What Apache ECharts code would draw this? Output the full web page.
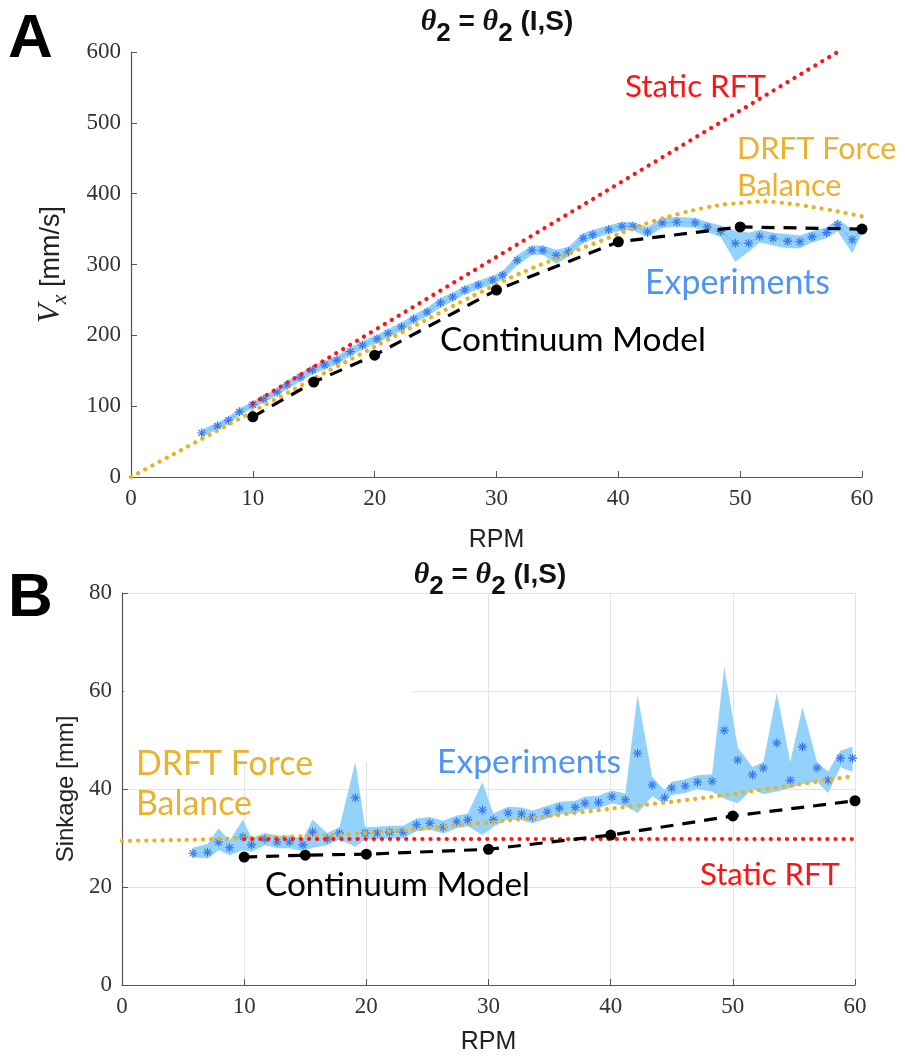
<!DOCTYPE html>
<html><head><meta charset="utf-8">
<script src="https://cdn.jsdelivr.net/npm/echarts@6/dist/echarts.min.js"></script>
<style>html,body{margin:0;padding:0;background:#fff}#c{width:905px;height:1059px}</style>
</head><body><div id="c"></div>
<script>
// ---------------- DATA ----------------
const rpmTicks = [0, 10, 20, 30, 40, 50, 60];

// Panel A: Vx [mm/s] vs RPM
const expA_rpm = [5.8,7.1,8.0,8.9,10.0,10.9,12.0,12.8,13.9,14.9,15.9,16.9,18.0,19.0,20.2,21.1,22.2,23.2,24.3,25.4,26.4,27.4,28.5,29.7,30.5,31.7,32.9,33.8,34.9,35.9,37.1,37.9,39.2,40.3,41.2,42.4,43.6,44.8,46.3,47.3,48.4,49.6,50.7,51.6,52.7,53.9,54.9,55.9,57.1,58.0,59.2,60.0];
const expA_vx  = [62,72,80,92,102,110,120,130,141,151,158,165,177,186,195,203,212,223,233,246,254,264,271,278,285,306,320,320,313,318,337,342,349,354,354,346,359,360,359,353,347,330,330,340,337,333,332,339,345,356,335,350];
const expA_lo  = [57,67,75,87,97,105,115,124,135,145,152,159,171,180,189,197,206,217,227,239,248,258,265,272,279,299,313,314,301,311,330,336,343,348,348,339,352,353,352,346,339,304,318,331,327,323,323,331,337,347,316,344];
const expA_hi  = [67,77,85,97,107,115,125,136,147,157,164,171,183,192,201,209,218,229,239,253,260,270,277,284,291,313,327,327,321,325,344,349,355,360,360,353,366,367,366,360,355,348,345,349,345,343,341,347,353,364,350,356];
const contA_rpm = [10,15,20,30,40,50,60];
const contA_vx  = [85,134,172,264,332,353,350];
const rftA_rpm = [10,58];
const rftA_vx  = [104,600];
const drftA_rpm = [0,4,8,12,16,20,24,28,32,36,40,42,44,46,48,50,52,54,56,58,60];
const drftA_vx  = [0,37,74,111,148,184,220,255,288,316,343,356,367,376,383,387,389,386,381,375,368];
const vxTicks = [0,100,200,300,400,500,600];

// Panel B: Sinkage [mm] vs RPM
const expB_rpm = [5.8,7.0,7.9,8.8,9.9,10.6,11.7,12.7,13.7,14.8,15.6,16.8,17.8,19.1,19.9,20.9,21.9,23.0,24.1,25.2,26.3,27.4,28.3,29.5,30.4,31.6,32.7,33.6,34.8,35.8,37.1,37.9,39.0,40.1,41.2,42.2,43.4,44.4,45.0,46.1,47.1,48.3,49.3,50.4,51.6,52.5,53.6,54.7,55.7,56.9,57.8,58.8,59.8];
const expB_sink = [26.9,27.1,29.2,28.0,30.2,28.6,29.8,29.2,29.2,28.6,31.2,29.8,31.0,38.2,31.0,31.0,31.2,31.2,32.7,33.0,32.2,33.3,33.7,35.7,33.7,35.1,34.9,34.3,35.3,36.1,36.3,37.1,37.3,38.4,37.8,47.3,40.8,38.2,40.2,40.6,41.4,41.6,52.0,45.9,42.9,44.3,49.4,41.8,48.6,44.3,41.8,46.3,46.3];
const expB_lo = [26.0,25.8,27.5,26.5,27.5,27.2,28.5,27.9,27.9,27.3,28.0,28.5,29.7,28.2,29.7,29.7,29.9,29.9,31.4,31.7,30.9,32.0,32.4,30.6,32.3,33.8,33.6,33.0,34.0,34.8,35.0,35.8,36.0,37.1,36.5,35.1,38.5,37.0,38.8,39.2,40.0,39.5,38.0,37.1,40.0,39.0,39.5,40.2,41.0,41.5,39.2,44.5,43.5];
const expB_hi = [28.0,28.8,32.0,29.5,33.7,30.0,31.0,30.5,30.5,29.9,33.7,31.0,32.2,45.5,32.2,32.3,32.5,32.5,34.0,34.3,33.5,34.6,35.0,41.4,35.0,36.4,36.2,35.6,36.6,37.4,37.6,38.4,38.6,39.7,39.1,59.2,42.5,39.8,41.5,42.0,42.8,43.0,64.9,48.5,44.5,45.5,59.6,45.5,56.7,45.5,43.5,47.8,48.6];
const contB_rpm = [10,15,20,30,40,50,60];
const contB_sink = [26.1,26.5,26.7,27.7,30.6,34.5,37.6];
const rftB_rpm = [10,60];
const rftB_sink = [29.8,29.8];
const drftB_rpm = [0,5,10,15,20,25,30,35,40,45,50,55,60];
const drftB_sink = [29.4,29.6,30.0,30.4,31.0,32.0,33.2,34.5,36.0,37.4,39.0,40.8,42.7];
const sinkTicks = [0,20,40,60,80];

// ---------------- STYLE ----------------
const C_BAND = '#93d2fa', C_STAR = '#2e6cf2', C_EXPTXT = '#4f95f5';
const C_ORANGE = '#EDB120', C_ORTXT = '#eab22e', C_RED = '#ff1414';
const SERIF = '"Liberation Serif", "DejaVu Serif", serif';
const SANS = 'Lato, "Open Sans", sans-serif';
const SANSB = '"Liberation Sans Narrow", "Liberation Sans", Arial, sans-serif';
const ASTERISK = 'path://M-0.7,-6L0.7,-6L0.7,6L-0.7,6Z M-6,-0.7L6,-0.7L6,0.7L-6,0.7Z M-4.7,-3.7L3.7,4.7L4.7,3.7L-3.7,-4.7Z M4.7,-3.7L-3.7,4.7L-4.7,3.7L3.7,-4.7Z';

function fitSize(text, width, family, weight) {
  const ctx = document.createElement('canvas').getContext('2d');
  ctx.font = (weight || 'normal') + ' 100px ' + family;
  return 100 * width / ctx.measureText(text).width;
}

const pairs = (xs, ys) => xs.map((x, i) => [x, ys[i]]);

function band(ai, xs, lo, hi) {
  return {
    type: 'custom', xAxisIndex: ai, yAxisIndex: ai, z: 1, silent: true,
    data: xs.map((x, i) => [x, lo[i], hi[i]]),
    encode: { x: 0, y: [1, 2] },
    renderItem: function (params, api) {
      if (params.dataIndex !== 0) return null;
      const pts = [];
      for (let i = 0; i < xs.length; i++) pts.push(api.coord([xs[i], hi[i]]));
      for (let i = xs.length - 1; i >= 0; i--) pts.push(api.coord([xs[i], lo[i]]));
      return { type: 'polygon', shape: { points: pts }, style: { fill: C_BAND } };
    }
  };
}
function stars(ai, xs, ys, withLine) {
  return {
    type: 'line', xAxisIndex: ai, yAxisIndex: ai, z: 3, data: pairs(xs, ys),
    symbol: ASTERISK, symbolSize: 9, showSymbol: true,
    itemStyle: { color: C_STAR, borderWidth: 0 },
    lineStyle: withLine ? { color: '#84c6f7', width: 2 } : { width: 0, opacity: 0 }
  };
}
function dotted(ai, xs, ys, color, smooth) {
  return {
    type: 'line', xAxisIndex: ai, yAxisIndex: ai, z: 4, data: pairs(xs, ys),
    showSymbol: false, smooth: smooth ? 0.3 : false,
    lineStyle: { color: color, width: 4.2, type: [0.1, 8], cap: 'round' }
  };
}
function continuum(ai, xs, ys) {
  return {
    type: 'line', xAxisIndex: ai, yAxisIndex: ai, z: 5, data: pairs(xs, ys),
    symbol: 'circle', symbolSize: 11, showSymbol: true,
    itemStyle: { color: '#000' },
    lineStyle: { color: '#000', width: 3.2, type: [13, 9] }
  };
}

function xAxis(gi, gap) {
  return {
    type: 'value', gridIndex: gi, min: rpmTicks[0], max: rpmTicks[rpmTicks.length - 1], interval: 10,
    axisLine: { show: true, lineStyle: { color: '#555', width: 1.2 } },
    axisTick: { show: true, inside: true, length: 6, lineStyle: { color: '#555' } },
    axisLabel: { fontFamily: SERIF, fontSize: 23, color: '#333', margin: 10 },
    splitLine: { show: gi === 1, lineStyle: { color: '#e4e4e4', width: 1 } },
    name: 'RPM', nameLocation: 'middle', nameGap: gap,
    nameTextStyle: { fontFamily: '"Liberation Sans", Arial, sans-serif', fontSize: 25, color: '#222' }
  };
}

const option = {
  animation: false,
  backgroundColor: '#fff',
  grid: [
    { left: 131, top: 52, width: 731, height: 425 },
    { left: 122, top: 593, width: 733, height: 392 }
  ],
  xAxis: [xAxis(0, 51), xAxis(1, 45)],
  yAxis: [
    {
      type: 'value', gridIndex: 0, min: vxTicks[0], max: vxTicks[vxTicks.length - 1], interval: 100,
      axisLine: { show: true, lineStyle: { color: '#555', width: 1.2 } },
      axisTick: { show: true, inside: true, length: 6, lineStyle: { color: '#555' } },
      axisLabel: { fontFamily: SERIF, fontSize: 23, color: '#333', margin: 10 },
      splitLine: { show: false },
      name: '{v|V}{s|x}{n| [mm/s]}', nameLocation: 'middle', nameRotate: 90, nameGap: 60,
      nameTextStyle: {
        rich: {
          v: { fontFamily: SERIF, fontStyle: 'italic', fontSize: 31, color: '#222', verticalAlign: 'top' },
          s: { fontFamily: SERIF, fontStyle: 'italic', fontSize: 22, color: '#222', verticalAlign: 'top', padding: [14, 0, 0, 0] },
          n: { fontFamily: '"Liberation Sans", Arial, sans-serif', fontSize: 27, color: '#222', verticalAlign: 'top', padding: [3, 0, 0, 0] }
        }
      }
    },
    {
      type: 'value', gridIndex: 1, min: sinkTicks[0], max: sinkTicks[sinkTicks.length - 1], interval: 20,
      axisLine: { show: true, lineStyle: { color: '#555', width: 1.2 } },
      axisTick: { show: true, inside: true, length: 6, lineStyle: { color: '#555' } },
      axisLabel: { fontFamily: SERIF, fontSize: 23, color: '#333', margin: 10 },
      splitLine: { show: true, lineStyle: { color: '#e4e4e4', width: 1 } },
      name: 'Sinkage [mm]', nameLocation: 'middle', nameRotate: 90, nameGap: 40,
      nameTextStyle: { fontFamily: '"Liberation Sans", Arial, sans-serif', fontSize: 24, color: '#222' }
    }
  ],
  series: [
    band(0, expA_rpm, expA_lo, expA_hi),
    stars(0, expA_rpm, expA_vx, true),
    dotted(0, drftA_rpm, drftA_vx, C_ORANGE, true),
    dotted(0, rftA_rpm, rftA_vx, C_RED, false),
    continuum(0, contA_rpm, contA_vx),

    band(1, expB_rpm, expB_lo, expB_hi),
    stars(1, expB_rpm, expB_sink, false),
    dotted(1, drftB_rpm, drftB_sink, C_ORANGE, true),
    dotted(1, rftB_rpm, rftB_sink, C_RED, false),
    continuum(1, contB_rpm, contB_sink)
  ],
  graphic: { elements: [] }
};

function txt(text, x, y, color, size, family, weight) {
  return { type: 'text', x: x, y: y, z: 10, silent: true,
    style: { text: text, fill: color, fontSize: size, fontFamily: family || SANS, fontWeight: weight || 'normal',
      align: 'left', verticalAlign: 'middle' } };
}
function ann(text, x, y, color, width) {
  return txt(text, x, y, color, fitSize(text, width, SANS, 'normal'));
}
function title(x, y) {
  return { type: 'text', x: x, y: y, z: 10, silent: true,
    style: {
      text: '{t|θ}{s|2}{e| = }{t|θ}{s|2}{e| (I,S)}', align: 'center', verticalAlign: 'top',
      rich: {
        t: { fontFamily: SERIF, fontStyle: 'italic', fontWeight: 'bold', fontSize: 30, fill: '#111', verticalAlign: 'top' },
        s: { fontFamily: SANSB, fontWeight: 'bold', fontSize: 26, fill: '#111', verticalAlign: 'top', padding: [14, 0, 0, 0] },
        e: { fontFamily: SANSB, fontWeight: 'bold', fontSize: 28, fill: '#111', verticalAlign: 'top', padding: [1, 0, 0, 0] }
      }
    } };
}
const G = option.graphic.elements;
// white patch covering part of panel B grid (as in reference)
G.push({ type: 'rect', z: 1, silent: true, shape: { x: 124, y: 594, width: 288, height: 168 }, style: { fill: '#fff' } });
G.push(txt('A', 8, 40, '#000', 62, '"Liberation Sans", Arial, sans-serif', 'bold'));
G.push(txt('B', 8, 599, '#000', 62, '"Liberation Sans", Arial, sans-serif', 'bold'));
G.push(title(497, 7));
G.push(title(490, 560));
// Panel A annotations
const annSize = fitSize('Experiments', 185, SANS, 'normal');
G.push(ann('Static RFT', 625, 87, C_RED, 141));
G.push(txt('DRFT Force', 737, 149, C_ORTXT, annSize * 0.9));
G.push(txt('Balance', 737, 186, C_ORTXT, annSize * 0.9));
G.push(ann('Experiments', 645, 283, C_EXPTXT, 185));
G.push(ann('Continuum Model', 440, 340, '#000', 266));
// Panel B annotations
G.push(txt('DRFT Force', 136, 764, C_ORTXT, annSize));
G.push(txt('Balance', 136, 804, C_ORTXT, annSize));
G.push(ann('Experiments', 437, 762, C_EXPTXT, 184));
G.push(ann('Continuum Model', 265, 885, '#000', 265));
G.push(ann('Static RFT', 700, 875, C_RED, 140));

const chart = echarts.init(document.getElementById('c'), null, { renderer: 'canvas' });
chart.setOption(option);
</script>
</body></html>
